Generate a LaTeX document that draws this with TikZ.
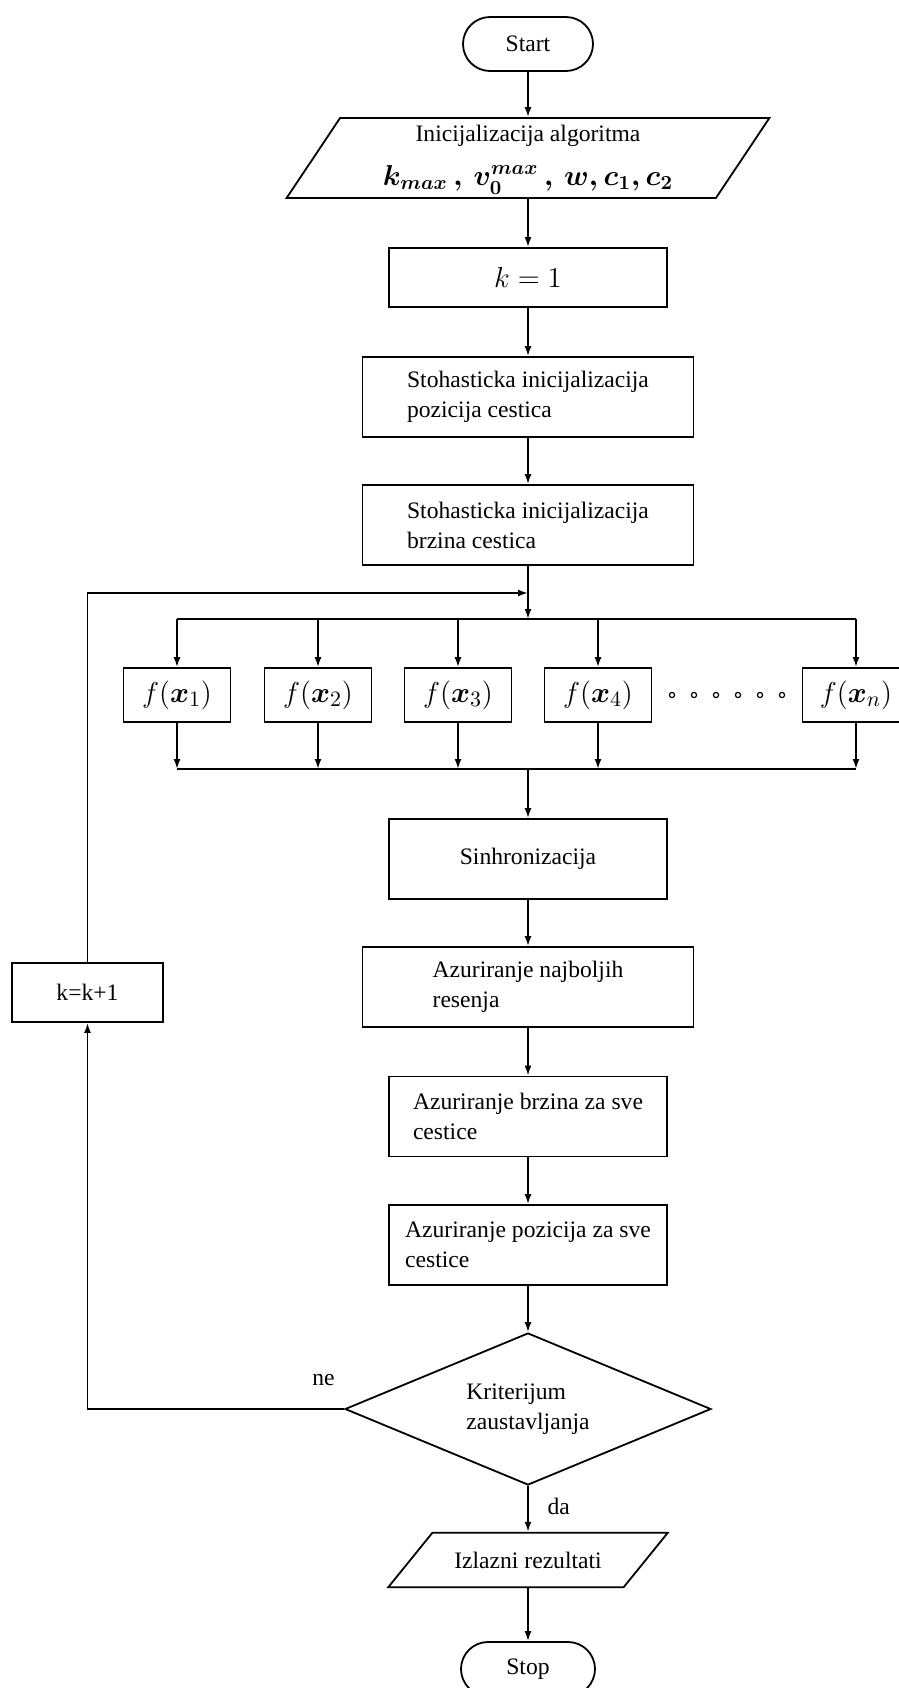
\documentclass[tikz,border=0pt]{standalone}
\usepackage[no-math]{fontspec}
\setmainfont{Liberation Serif}
\usepackage{bm}
\usetikzlibrary{positioning}
\usetikzlibrary{shapes.geometric}
\usetikzlibrary{arrows.meta}

\newcommand{\formulasize}{\fontsize{15}{18}\selectfont}

\tikzset{
  blok/.style={draw, rectangle, align=left, inner sep=2pt},
  wide/.style={blok, minimum width=165.5pt, minimum height=40pt},
  narrow/.style={blok, minimum width=139pt, minimum height=40pt},
  fbox/.style={blok, minimum width=53.5pt, minimum height=27pt, font=\formulasize},
  term/.style={draw, rectangle, rounded corners=13.5pt, minimum width=65pt, minimum height=27pt},
  ulaz/.style={draw, trapezium, trapezium stretches=true, trapezium left angle=58, trapezium right angle=122, align=center, inner sep=0pt},
  odluka/.style={draw, diamond, aspect=2.4, minimum width=183pt, minimum height=76pt, align=left, inner sep=0pt},
  tok/.style={-{Latex[length=5pt,width=3.5pt]}}
}

\begin{document}
\begin{tikzpicture}[x=0.5pt, y=-0.5pt, line width=0.9pt, font=\fontsize{11.8}{15}\selectfont]
    \useasboundingbox (0,0) rectangle (899,1688);
    \node[term] (start) at (528,44) {Start};
    \node[ulaz, minimum width=242pt, minimum height=40pt] (init) at (528,158)
        {Inicijalizacija algoritma\\[7pt]{\fontsize{14}{17}\selectfont\boldmath$k_{max}\,,\,\smash{v_0^{max}}\,,\,w,c_1,c_2$}};
    \node[narrow, minimum height=29.5pt, font=\formulasize] (kone) at (528,277.5) {$k = 1$};
    \node[wide] (pos) at (528,397) {Stohasticka inicijalizacija\\pozicija cestica};
    \node[wide] (vel) at (528,525) {Stohasticka inicijalizacija\\brzina cestica};
    \coordinate (join) at (528,593);
    \coordinate (split) at (528,619);

    \node[fbox] (f1) at (177,695) {$f(\bm{x}_1)$};
    \node[fbox] (f2) at (318,695) {$f(\bm{x}_2)$};
    \node[fbox] (f3) at (458,695) {$f(\bm{x}_3)$};
    \node[fbox] (f4) at (598,695) {$f(\bm{x}_4)$};
    \node[fbox] (fn) at (856,695) {$f(\bm{x}_n)$};
    \foreach \i in {0,...,5}
        \draw[line width=0.6pt] (672+\i*22,695) circle (1.3pt);
    \coordinate (merge) at (528,769);

    \node[narrow] (sync) at (528,859) {Sinhronizacija};
    \node[wide] (best) at (528,987) {Azuriranje najboljih\\resenja};
    \node[narrow] (upvel) at (528,1116.5) {Azuriranje brzina za sve\\cestice};
    \node[narrow] (uppos) at (528,1245) {Azuriranje pozicija za sve\\cestice};
    \node[odluka] (crit) at (528,1409) {Kriterijum\\zaustavljanja};
    \node[ulaz, inner ysep=9.5pt, minimum width=140pt, minimum height=27pt] (out) at (528,1560) {Izlazni rezultati};
    \node[term, minimum width=67pt] (stop) at (528,1669) {Stop};
    \node[blok, minimum width=75.5pt, minimum height=29.5pt] (kinc) at (87.5,992.5) {k=k+1};

    \draw[tok] (start) -- (init);
    \draw[tok] (init) -- (kone);
    \draw[tok] (kone) -- (pos);
    \draw[tok] (pos) -- (vel);
    \draw[tok] (vel) -- (split);
    \draw[tok] (kinc) |- (join);
    \draw (f1.north |- split) -- (fn.north |- split);
    \foreach \f in {f1,f2,f3,f4,fn} {
        \draw[tok] (\f.north |- split) -- (\f);
        \draw[tok] (\f) -- (\f.south |- merge);
    }
    \draw (f1.south |- merge) -- (fn.south |- merge);
    \draw[tok] (merge) -- (sync);
    \draw[tok] (sync) -- (best);
    \draw[tok] (best) -- (upvel);
    \draw[tok] (upvel) -- (uppos);
    \draw[tok] (uppos) -- (crit);
    \draw[tok] (crit) -- node[right=6pt, pos=0.45] {da} (out);
    \draw[tok] (out) -- (stop);
    \draw[tok] (crit) -| node[pos=0.04, above=8pt] {ne} (kinc);
\end{tikzpicture}
\end{document}
